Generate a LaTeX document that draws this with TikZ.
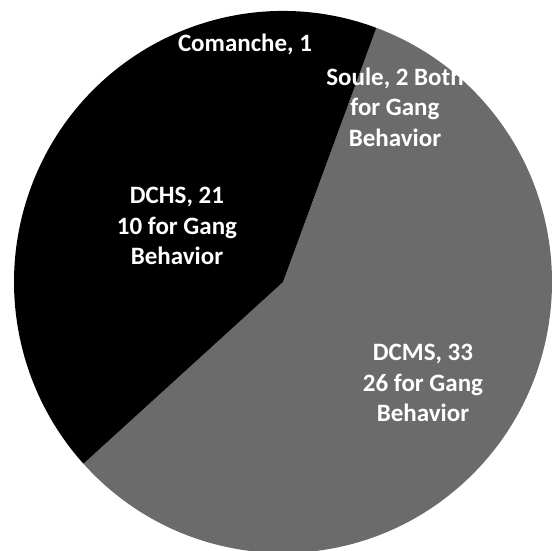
\documentclass[tikz,border=0pt]{standalone}
\usepackage{fontspec}
\setmainfont{Carlito}
\begin{document}
\begin{tikzpicture}[x=1pt,y=1pt,
  lab/.style={text=white, font=\bfseries\fontsize{25}{30.5}\selectfont, align=center, inner sep=0pt},
  darkslice/.style={fill=black},
  greyslice/.style={fill=black!58}]
\useasboundingbox (0,0) rectangle (554,550);
\coordinate (c) at (283,268);
% DCMS + Soule (grey)
\fill[greyslice] (c) -- ++(222.1:269pt and 271pt)
  arc[start angle=222.1, end angle=429.7, x radius=269pt, y radius=271pt] -- cycle;
% DCHS + Comanche (black)
\fill[darkslice] (c) -- ++(69.7:269pt and 271pt)
  arc[start angle=69.7, end angle=222.1, x radius=269pt, y radius=271pt] -- cycle;
\node[lab] (comanche) at (245,506) {Comanche, 1};
\node[lab] (soule) at (395,443) {Soule, 2 Both\\for Gang\\Behavior};
\node[lab] (dchs) at (177,324) {DCHS, 21\\10 for Gang\\Behavior};
\node[lab] (dcms) at (423,167) {DCMS, 33\\26 for Gang\\Behavior};
\end{tikzpicture}
\end{document}
